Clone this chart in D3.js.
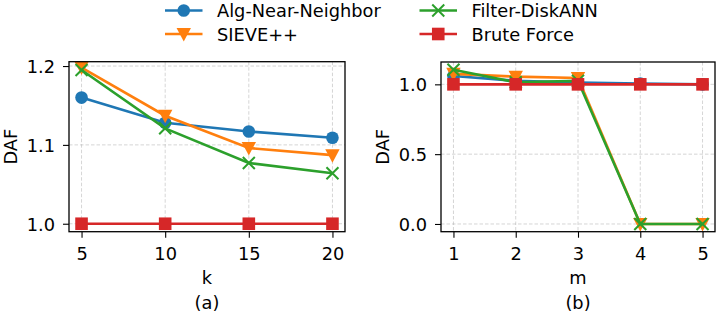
<!DOCTYPE html>
<html><head><meta charset="utf-8">
<script src="https://cdn.jsdelivr.net/npm/d3@7"></script>
<style>body{margin:0;background:#fff}svg{display:block}text{font-family:"DejaVu Sans",sans-serif;fill:#000}</style>
</head><body><svg id="c" width="718" height="312"></svg>
<script>
const seriesNames = ["Alg-Near-Neighbor","SIEVE++","Filter-DiskANN","Brute Force"];
const colors = ["#1f77b4","#ff7f0e","#2ca02c","#d62728"];
const markers = ["circle","triangle","x","square"];
// panel (a)
const kValues = [5,10,15,20];
const dafA_alg = [1.160,1.128,1.117,1.109];
const dafA_sieve = [1.198,1.137,1.096,1.087];
const dafA_filter = [1.195,1.121,1.077,1.064];
const dafA_brute = [1.0,1.0,1.0,1.0];
const yTicksA = [1.0,1.1,1.2];
// panel (b)
const mValues = [1,2,3,4,5];
const dafB_alg = [1.06,1.025,1.012,1.005,1.0];
const dafB_sieve = [1.075,1.055,1.045,0,0];
const dafB_filter = [1.105,1.015,1.025,0,0];
const dafB_brute = [1.0,1.0,1.0,1.0,1.0];
const yTicksB = [0.0,0.5,1.0];

const svg = d3.select("#c");
const FS = 17.8;

function panel(cfg){
  const g = svg.append("g");
  const x = d3.scaleLinear().domain(cfg.xDomain).range([cfg.left,cfg.right]);
  const y = d3.scaleLinear().domain(cfg.yDomain).range([cfg.bottom,cfg.top]);
  // grid
  g.selectAll(".gx").data(cfg.xs).enter().append("line")
    .attr("x1",d=>x(d)).attr("x2",d=>x(d)).attr("y1",cfg.top).attr("y2",cfg.bottom)
    .attr("stroke","#b0b0b0").attr("stroke-opacity",0.6).attr("stroke-width",0.9).attr("stroke-dasharray","3.5,2");
  g.selectAll(".gy").data(cfg.yTicks).enter().append("line")
    .attr("y1",d=>y(d)).attr("y2",d=>y(d)).attr("x1",cfg.left).attr("x2",cfg.right)
    .attr("stroke","#b0b0b0").attr("stroke-opacity",0.6).attr("stroke-width",0.9).attr("stroke-dasharray","3.5,2");
  // axes
  const xa = d3.axisBottom(x).tickValues(cfg.xs).tickSize(6).tickPadding(4).tickFormat(d3.format("d"));
  const ya = d3.axisLeft(y).tickValues(cfg.yTicks).tickSize(6).tickPadding(8).tickFormat(d3.format(".1f"));
  const gx = g.append("g").attr("transform",`translate(0,${cfg.bottom})`).call(xa);
  const gy = g.append("g").attr("transform",`translate(${cfg.left},0)`).call(ya);
  [gx,gy].forEach(a=>{a.select(".domain").remove();a.selectAll("line").attr("stroke","#000").attr("stroke-width",1.1);
    a.selectAll("text").attr("font-size",FS).attr("font-family","DejaVu Sans");});
  gx.selectAll("text").attr("dy",null).attr("y",null).attr("dominant-baseline","central").attr("transform","translate(0,21.5)");
  gy.selectAll("text").attr("dy",null).attr("dominant-baseline","central");
  // series
  cfg.series.forEach((vals,i)=>{
    const pts = cfg.xs.map((xv,j)=>[x(xv),y(vals[j])]);
    g.append("path").attr("d",d3.line()(pts)).attr("fill","none").attr("stroke",colors[i]).attr("stroke-width",2.6);
    pts.forEach(p=>drawMarker(g,markers[i],p[0],p[1],colors[i]));
  });
  // frame
  g.append("rect").attr("x",cfg.left).attr("y",cfg.top).attr("width",cfg.right-cfg.left).attr("height",cfg.bottom-cfg.top)
    .attr("fill","none").attr("stroke","#000").attr("stroke-width",1.3);
  // labels
  const cx=(cfg.left+cfg.right)/2;
  g.append("text").attr("x",cx).attr("y",277).attr("text-anchor","middle").attr("dominant-baseline","central").attr("font-size",FS).text(cfg.xlabel);
  g.append("text").attr("x",cx).attr("y",302.5).attr("text-anchor","middle").attr("dominant-baseline","central").attr("font-size",FS).text(cfg.title);
  g.append("text").attr("transform",`translate(${cfg.ylabelX},${(cfg.top+cfg.bottom)/2}) rotate(-90)`)
    .attr("text-anchor","middle").attr("dominant-baseline","central").attr("font-size",FS).text("DAF");
}

function drawMarker(g,type,cx,cy,color){
  if(type==="circle") g.append("circle").attr("cx",cx).attr("cy",cy).attr("r",6.3).attr("fill",color);
  else if(type==="square") g.append("rect").attr("x",cx-6.3).attr("y",cy-6.3).attr("width",12.6).attr("height",12.6).attr("fill",color);
  else if(type==="triangle") g.append("path").attr("d",`M${cx-7.2},${cy-6} L${cx+7.2},${cy-6} L${cx},${cy+7.5} Z`).attr("fill",color);
  else if(type==="x") g.append("path").attr("d",`M${cx-6},${cy-6} L${cx+6},${cy+6} M${cx-6},${cy+6} L${cx+6},${cy-6}`).attr("stroke",color).attr("stroke-width",2);
}

panel({left:69,right:345,top:61.7,bottom:231.7,xDomain:[4.25,20.75],yDomain:[0.9899,1.2055],
  xs:kValues,yTicks:yTicksA,series:[dafA_alg,dafA_sieve,dafA_filter,dafA_brute],xlabel:"k",title:"(a)",ylabelX:10});
panel({left:441,right:715,top:62,bottom:231.7,xDomain:[0.8,5.2],yDomain:[-0.0553,1.160],
  xs:mValues,yTicks:yTicksB,series:[dafB_alg,dafB_sieve,dafB_filter,dafB_brute],xlabel:"m",title:"(b)",ylabelX:382.7});

// legend
const legPos = [[165,10.5],[165,34],[419.5,10.5],[419.5,34]];
seriesNames.forEach((n,i)=>{
  const [lx,ly]=legPos[i];
  const lg = svg.append("g");
  lg.append("line").attr("x1",lx).attr("x2",lx+37.5).attr("y1",ly).attr("y2",ly).attr("stroke",colors[i]).attr("stroke-width",2.6);
  drawMarker(lg,markers[i],lx+18.75,ly,colors[i]);
  lg.append("text").attr("x",lx+52).attr("y",ly).attr("dominant-baseline","central").attr("font-size",FS).text(n);
});
</script></body></html>
